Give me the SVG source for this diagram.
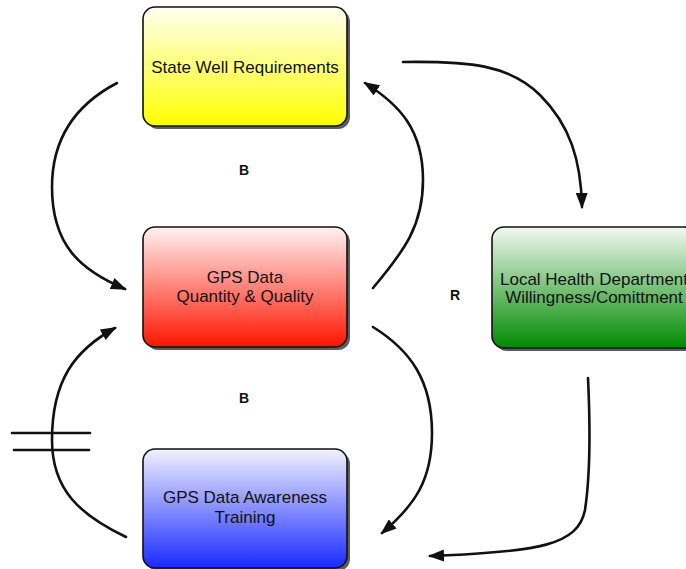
<svg xmlns="http://www.w3.org/2000/svg" width="686" height="569" viewBox="0 0 686 569">
<style>
.box{stroke:#111;stroke-width:1.6}
.shadow{fill:#333;opacity:0.8}
.t{font-family:"Liberation Sans",Arial,sans-serif;font-size:17px;fill:#111;text-anchor:middle}
.lbl{font-family:"Liberation Sans",Arial,sans-serif;font-size:14px;font-weight:bold;fill:#111;text-anchor:middle}
.c{fill:none;stroke:#111;stroke-width:2.6;stroke-linecap:round}
</style>
<defs>
<linearGradient id="gy" x1="0" y1="0" x2="0" y2="1"><stop offset="0" stop-color="#fffff2"/><stop offset="1" stop-color="#ffff00"/></linearGradient>
<linearGradient id="gr" x1="0" y1="0" x2="0" y2="1"><stop offset="0" stop-color="#fff2f2"/><stop offset="1" stop-color="#ff1500"/></linearGradient>
<linearGradient id="gb" x1="0" y1="0" x2="0" y2="1"><stop offset="0" stop-color="#f2f2ff"/><stop offset="1" stop-color="#1a2aff"/></linearGradient>
<linearGradient id="gg" x1="0" y1="0" x2="0" y2="1"><stop offset="0" stop-color="#f2f8f2"/><stop offset="1" stop-color="#008a00"/></linearGradient>
<marker id="ah" viewBox="0 0 16 12" refX="14" refY="6" markerWidth="16" markerHeight="12" markerUnits="userSpaceOnUse" orient="auto"><path d="M0,0 L16,6 L0,12 z" fill="#111"/></marker>
</defs>
<g id="state-well">
<rect class="shadow" x="146" y="10" width="204" height="119" rx="12"/>
<rect class="box" x="143" y="7" width="204" height="119" rx="12" fill="url(#gy)"/>
<text class="t" x="245" y="73">State Well Requirements</text>
</g>
<g id="gps-data">
<rect class="shadow" x="146" y="230" width="204" height="120" rx="12"/>
<rect class="box" x="143" y="227" width="204" height="120" rx="12" fill="url(#gr)"/>
<text class="t" x="245" y="283">GPS Data</text>
<text class="t" x="245" y="302">Quantity &amp; Quality</text>
</g>
<g id="training">
<rect class="shadow" x="146" y="452" width="204" height="119" rx="12"/>
<rect class="box" x="143" y="449" width="204" height="119" rx="12" fill="url(#gb)"/>
<text class="t" x="245" y="503">GPS Data Awareness</text>
<text class="t" x="245" y="523">Training</text>
</g>
<g id="local-health">
<rect class="shadow" x="495" y="230" width="204" height="121" rx="12"/>
<rect class="box" x="492" y="227" width="204" height="121" rx="12" fill="url(#gg)"/>
<text class="t" x="594" y="285">Local Health Department</text>
<text class="t" x="594" y="303">Willingness/Comittment</text>
</g>
<g id="labels">
<text class="lbl" x="244" y="175">B</text>
<text class="lbl" x="244" y="403">B</text>
<text class="lbl" x="455" y="300">R</text>
</g>
<g id="connectors">
<path class="c" marker-end="url(#ah)" d="M117,83 C75,105 52,140 52,187 C52,245 80,270 125,289"/>
<path class="c" marker-end="url(#ah)" d="M126,537 C80,515 52,490 52,440 C52,380 75,350 115,328"/>
<path class="c" marker-end="url(#ah)" d="M373,288 C405,250 423,225 423,180 C423,130 400,105 365,83"/>
<path class="c" marker-end="url(#ah)" d="M403,62 C470,61 510,65 540,95 C570,125 581,160 582,207"/>
<path class="c" marker-end="url(#ah)" d="M373,327 C410,350 432,380 432,433 C432,480 415,505 382,533"/>
<path class="c" marker-end="url(#ah)" d="M588,378 C590,420 591,470 585,510 C578,545 540,552 430,556"/>
<line class="c" x1="12" y1="433" x2="90" y2="433" stroke-linecap="butt"/>
<line class="c" x1="14" y1="450" x2="89" y2="450" stroke-linecap="butt"/>
</g>
</svg>
